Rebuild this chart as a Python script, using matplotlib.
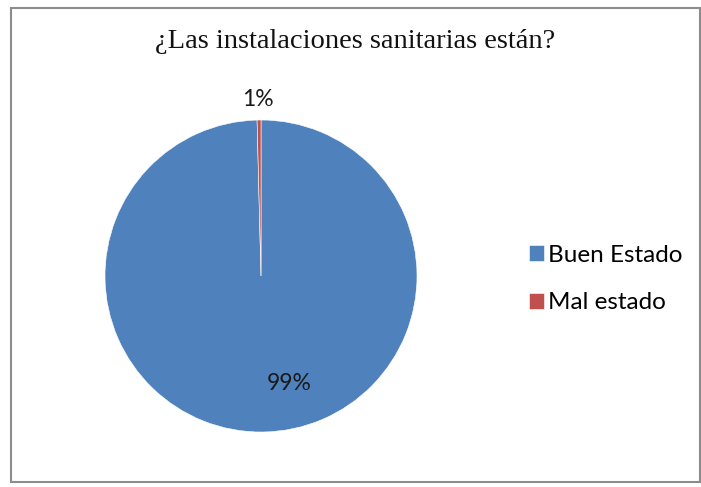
import matplotlib
matplotlib.use("Agg")
import matplotlib.pyplot as plt
from matplotlib.patches import Rectangle

# data
categories = ["Buen Estado", "Mal estado"]
values = [99.6, 0.4]
pct_labels = ["99%", "1%"]
colors = ["#4F81BD", "#C0504D"]

TITLE = "¿Las instalaciones sanitarias están?"

W, H = 701, 487
fig = plt.figure(figsize=(W / 100, H / 100), dpi=100)
fig.patch.set_facecolor("white")

# outer chart border
fig.patches.append(Rectangle((11 / W, 5 / H), 689 / W, 474 / H, transform=fig.transFigure,
                             fill=False, edgecolor="#8c8c8c", linewidth=1.5))

ax = fig.add_axes([105 / W, 55 / H, 312 / W, 312 / H])
wedges, _ = ax.pie(values, colors=colors, startangle=90, counterclock=False, radius=1.0,
                   wedgeprops=dict(edgecolor="white", linewidth=0.4))
ax.set_xlim(-1, 1)
ax.set_ylim(-1, 1)
ax.set_aspect("equal")
ax.axis("off")

# percent labels: small slice outside, big slice inside
label_font = dict(family="Lato", fontsize=16.5, color="#1a1a1a")
pos = [(0.18, -0.69), (-0.02, 1.13)]
for (x, y), txt in zip(pos, pct_labels):
    ax.text(x, y, txt, ha="center", va="center", **label_font)

fig.text(355 / W, 1 - 42 / H, TITLE, ha="center", va="center",
         family="Liberation Serif", fontsize=20.5, color="#111111")

# legend
fig.legend(wedges, categories, loc="center left", bbox_to_anchor=(507 / W, 1 - 279 / H),
           frameon=False, prop=dict(family="Lato", size=17.5), handlelength=0.62,
           handleheight=0.62, handletextpad=0.16, labelspacing=1.1)

fig.savefig("out.png", dpi=100)
